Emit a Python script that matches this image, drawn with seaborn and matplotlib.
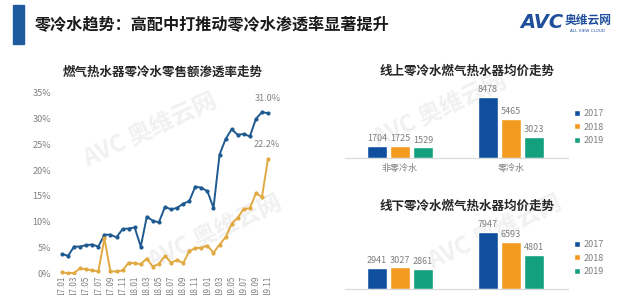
import numpy as np
import pandas as pd
import matplotlib
matplotlib.use("Agg")
import matplotlib.pyplot as plt
from matplotlib.patches import Rectangle
import seaborn as sns

sns.set_theme(style="white")
plt.rcParams['font.family'] = ['Noto Sans CJK SC', 'DejaVu Sans']

# ---------------- data ----------------
months = [f"{y}.{m:02d}" for y in (17, 18, 19) for m in range(1, 13)][:35]
share_total = [3.8, 3.4, 5.2, 5.2, 5.5, 5.6, 5.2, 7.5, 7.5, 7.0,
               8.6, 8.7, 8.9, 5.2, 11.0, 10.2, 9.9, 12.9, 12.4, 12.7,
               13.5, 14.0, 16.8, 16.6, 15.9, 12.7, 23.0, 26.0, 27.9, 26.8,
               27.0, 26.5, 29.9, 31.2, 31.0]
share_other = [0.2, 0.1, 0.1, 1.0, 0.8, 0.6, 0.4, 6.8, 0.4, 0.4,
               0.6, 2.1, 2.0, 1.8, 2.9, 1.3, 1.9, 3.4, 2.1, 2.6,
               2.0, 4.3, 4.9, 5.0, 5.4, 4.0, 5.6, 7.0, 9.6, 10.8,
               12.5, 12.6, 15.5, 14.8, 22.2]
yticks_pct = [0, 5, 10, 15, 20, 25, 30, 35]

categories = ["非零冷水", "零冷水"]
years = ["2017", "2018", "2019"]
online_prices = {"2017": [1704, 8478], "2018": [1725, 5465], "2019": [1529, 3023]}
offline_prices = {"2017": [2941, 7947], "2018": [3027, 6593], "2019": [2861, 4801]}

main_title = "零冷水趋势：高配中打推动零冷水渗透率显著提升"
line_title = "燃气热水器零冷水零售额渗透率走势"
online_title = "线上零冷水燃气热水器均价走势"
offline_title = "线下零冷水燃气热水器均价走势"

# ---------------- styles ----------------
GRAY = "#7f7f7f"
LINE_BLUE = "#1f5a91"
LINE_GOLD = "#e1a942"
BAR_COLORS = {"2017": "#104f9e", "2018": "#f39b20", "2019": "#13a07f"}

W, H = 640, 295
fig = plt.figure(figsize=(W / 100, H / 100), dpi=100)


def fx(px):
    return px / W


def fy(py):
    return 1 - py / H


# watermarks (very light, behind everything)
for (x, y) in [(150, 130), (440, 110), (215, 232), (495, 232)]:
    fig.text(fx(x), fy(y), "AVC 奥维云网", fontsize=17, color="#f1f1f1",
             rotation=25, ha="center", va="center", fontweight="bold",
             fontstyle="italic", zorder=-10)

# header
fig.patches.append(Rectangle((fx(13), fy(44)), fx(8), 39 / H, transform=fig.transFigure,
                             color="#1f5a9e", zorder=3))
fig.patches.append(Rectangle((fx(22), fy(44)), fx(2), 39 / H, transform=fig.transFigure,
                             color="#1f5a9e", zorder=3))
fig.text(fx(35), fy(25), main_title, fontsize=11.6, fontweight="bold",
         color="#1a1a1a", ha="left", va="center")
fig.text(fx(542), fy(23), "AVC", fontsize=14, fontweight="bold", fontstyle="italic",
         color="#1f4e9c", ha="center", va="center", family=["DejaVu Sans"])
fig.text(fx(588), fy(20), "奥维云网", fontsize=8.5, fontweight="bold",
         color="#1f4e9c", ha="center", va="center")
fig.text(fx(588), fy(31), "ALL VIEW CLOUD", fontsize=3, color="#1f4e9c",
         ha="center", va="center", family=["DejaVu Sans"])

# ---------------- line chart ----------------
ax = fig.add_axes([fx(55.3), fy(273.5), fx(274.7 - 55.3), (273.5 - 92.5) / H])
idx = np.arange(len(months))
df_line = pd.DataFrame({
    "idx": np.concatenate([idx, idx]),
    "val": np.array(share_total + share_other) / 100,
    "series": ["a"] * len(idx) + ["b"] * len(idx),
})
sns.lineplot(data=df_line, x="idx", y="val", hue="series",
             palette={"a": LINE_BLUE, "b": LINE_GOLD}, marker="o",
             markersize=3, markeredgewidth=0, linewidth=1.4, legend=False, ax=ax)
ax.set_xlim(-1.1, 35.1)
ax.set_ylim(0, 0.35)
ax.set_yticks([v / 100 for v in yticks_pct])
ax.set_yticklabels([f"{v}%" for v in yticks_pct], fontsize=6.5, color=GRAY)
ax.set_xticks(idx[::2])
ax.set_xticklabels(months[::2], rotation=90, fontsize=5.8, color=GRAY)
ax.tick_params(axis="y", length=0, pad=3)
ax.tick_params(axis="x", length=0, pad=1.5)
ax.set_xlabel("")
ax.set_ylabel("")
for s in ax.spines.values():
    s.set_visible(False)
ax.set_facecolor("none")
ax.annotate(f"{share_total[-1]:.1f}%", (idx[-1], share_total[-1] / 100),
            xytext=(0, 7), textcoords="offset points", ha="center", va="bottom",
            fontsize=6.5, color=GRAY)
ax.annotate(f"{share_other[-1]:.1f}%", (idx[-1], share_other[-1] / 100),
            xytext=(-1, 7), textcoords="offset points", ha="center", va="bottom",
            fontsize=6.5, color=GRAY)
fig.text(fx(163), fy(72), line_title, fontsize=9, fontweight="bold",
         color="#262626", ha="center", va="center")


# ---------------- bar charts ----------------
def bar_panel(prices, base_px, top_px, ymax, title, title_y, legend_y0, show_cats):
    ax = fig.add_axes([fx(345), fy(base_px), fx(568 - 345), (base_px - top_px) / H])
    rows = []
    for y in years:
        for c, v in zip(categories, prices[y]):
            rows.append({"cat": c, "year": y, "price": v})
    df = pd.DataFrame(rows)
    sns.barplot(data=df, x="cat", y="price", hue="year", order=categories,
                hue_order=years, palette=BAR_COLORS, width=0.62, gap=0.16,
                saturation=1, ax=ax, legend=True)
    for cont in ax.containers:
        ax.bar_label(cont, fmt="%d", fontsize=6.5, color=GRAY, padding=2)
    ax.set_xlim(-0.495, 1.514)
    ax.set_ylim(0, ymax)
    ax.set_yticks([])
    ax.set_xlabel("")
    ax.set_ylabel("")
    ax.tick_params(axis="x", length=0, pad=4, labelsize=6.5, labelcolor=GRAY)
    if not show_cats:
        ax.set_xticklabels([])
    for k, s in ax.spines.items():
        s.set_visible(k == "bottom")
    ax.spines["bottom"].set_color("#d9d9d9")
    ax.spines["bottom"].set_linewidth(0.8)
    ax.set_facecolor("none")
    handles, labels = ax.get_legend_handles_labels()
    ax.legend(handles, labels, bbox_to_anchor=(fx(574), fy(legend_y0)),
              bbox_transform=fig.transFigure, loc="upper left", frameon=False,
              fontsize=6.5, labelcolor=GRAY, handlelength=0.65, handleheight=0.65,
              handletextpad=0.4, labelspacing=0.5, borderaxespad=0, borderpad=0)
    fig.text(fx(467), fy(title_y), title, fontsize=9, fontweight="bold",
             color="#262626", ha="center", va="center")
    return ax


bar_panel(online_prices, 158.3, 85, 10180, online_title, 71, 109, True)
bar_panel(offline_prices, 289, 215, 10350, offline_title, 206, 240, False)

fig.savefig("out.png", dpi=100)
